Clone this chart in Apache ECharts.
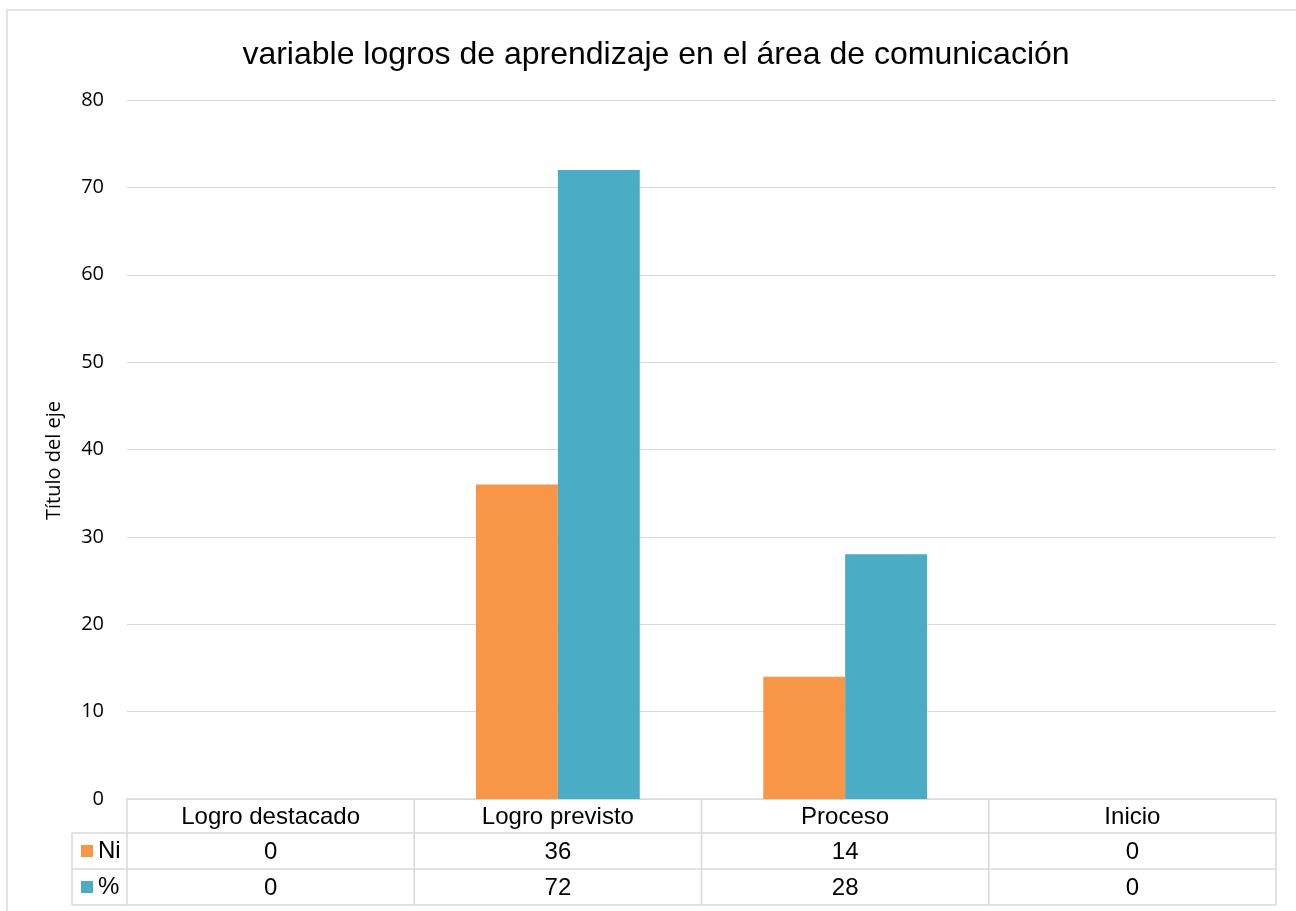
<!DOCTYPE html>
<html>
<head>
<meta charset="utf-8">
<script src="https://cdn.jsdelivr.net/npm/echarts@6/dist/echarts.min.js"></script>
<style>html,body{margin:0;padding:0;background:#fff}#c{width:1296px;height:911px}</style>
</head>
<body>
<div id="c"></div>
<script>
const categories = ['Logro destacado', 'Logro previsto', 'Proceso', 'Inicio'];
const niValues = [0, 36, 14, 0];
const pctValues = [0, 72, 28, 0];
const seriesNames = ['Ni', '%'];
const yTicks = { min: 0, max: 80, interval: 10 };

const ORANGE = '#F79646', BLUE = '#4BACC6', GRID = '#d9d9d9';
const colors = [ORANGE, BLUE];
const chart = echarts.init(document.getElementById('c'));
const option = {
  animation: false,
  backgroundColor: '#fff',
  title: {
    text: 'variable logros de aprendizaje en el área de comunicación',
    left: 651, textAlign: 'center', top: 34,
    textStyle: { fontFamily: 'Liberation Sans', fontSize: 32, fontWeight: 'normal', color: '#000' }
  },
  grid: { left: 127, right: 20, top: 100, bottom: 112 },
  xAxis: {
    type: 'category', data: categories,
    axisLine: { lineStyle: { color: GRID, width: 1.5 } },
    axisTick: { show: false },
    axisLabel: {
      interval: 0, margin: 0.5, lineHeight: 35.5,
      fontFamily: 'Liberation Sans', fontSize: 24, color: '#000',
      formatter: (v, i) => v + '\n' + niValues[i] + '\n' + pctValues[i]
    }
  },
  yAxis: {
    type: 'value', min: yTicks.min, max: yTicks.max, interval: yTicks.interval,
    name: 'Título del eje', nameLocation: 'middle', nameGap: 63,
    nameTextStyle: { fontFamily: 'Open Sans', fontSize: 20, color: '#000', padding: [0, 22, 0, 0] },
    axisLine: { show: false }, axisTick: { show: false },
    axisLabel: { fontFamily: 'Open Sans', fontSize: 20, color: '#000', margin: 23 },
    splitLine: { lineStyle: { color: GRID, width: 1.2 } }
  },
  series: [
    { name: seriesNames[0], type: 'bar', data: niValues, itemStyle: { color: ORANGE }, barGap: '0%', barCategoryGap: '43%' },
    { name: seriesNames[1], type: 'bar', data: pctValues, itemStyle: { color: BLUE }, barGap: '0%', barCategoryGap: '43%' }
  ]
};
chart.setOption(option);

// data-table grid lines and legend keys, positioned from the axis scale
const y0 = chart.convertToPixel({ yAxisIndex: 0 }, 0);
const c0 = chart.convertToPixel({ xAxisIndex: 0 }, 0);
const c1 = chart.convertToPixel({ xAxisIndex: 0 }, 1);
const band = c1 - c0;
const rowH = 36, headH = 34, legendW = 55;
const left = c0 - band / 2, right = left + band * categories.length;
const rows = [y0 + headH, y0 + headH + rowH, y0 + headH + 2 * rowH];
const bottom = rows[2];
const els = [];
const ls = { stroke: GRID, lineWidth: 1.5 };
rows.forEach(y => els.push({ type: 'line', shape: { x1: left - legendW, y1: y, x2: right, y2: y }, style: ls, silent: true }));
for (let i = 0; i <= categories.length; i++) {
  const x = left + band * i;
  els.push({ type: 'line', shape: { x1: x, y1: y0, x2: x, y2: bottom }, style: ls, silent: true });
}
els.push({ type: 'line', shape: { x1: left - legendW, y1: rows[0], x2: left - legendW, y2: bottom }, style: ls, silent: true });
seriesNames.forEach((n, i) => {
  const cy = rows[i] + rowH / 2;
  els.push({ type: 'rect', shape: { x: left - legendW + 9, y: cy - 6, width: 12, height: 12 }, style: { fill: colors[i] }, silent: true });
  els.push({ type: 'text', x: left - legendW + 26, y: cy, style: { text: n, fontFamily: 'Liberation Sans', fontSize: 24, fill: '#000', verticalAlign: 'middle', align: 'left' }, silent: true });
});
els.push({ type: 'rect', shape: { x: 7, y: 10, width: 1400, height: 1000 }, style: { fill: 'none', stroke: GRID, lineWidth: 1.5 }, silent: true, z: -1 });
chart.setOption({ graphic: els });
</script>
</body>
</html>
